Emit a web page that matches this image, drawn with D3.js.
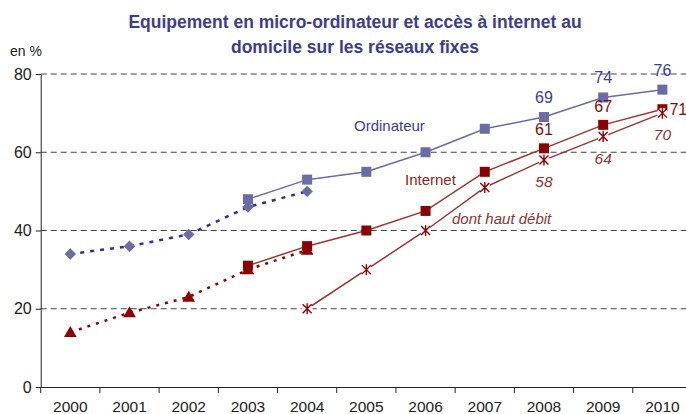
<!DOCTYPE html>
<html><head><meta charset="utf-8">
<script src="https://cdn.jsdelivr.net/npm/d3@7"></script>
<style>body{margin:0;background:#fff}svg{display:block;font-family:"Liberation Sans",Arial,sans-serif}</style>
</head><body><svg id="c" width="686" height="414"></svg>
<script>
const years = ["2000","2001","2002","2003","2004","2005","2006","2007","2008","2009","2010"];
const yTicks = [0,20,40,60,80];
const ordinateur = [null,null,null,48,53,55,60,66,69,74,76];
const ordinateurOld = [34,36,39,46,50,null,null,null,null,null,null];
const internet = [null,null,null,31,36,40,45,55,61,67,71];
const internetOld = [14,19,23,30,35,null,null,null,null,null,null];
const hautDebit = [null,null,null,null,20,30,40,51,58,64,70];
const labelsOrd = [["2008",69],["2009",74],["2010",76]];
const labelsInt = [["2008",61],["2009",67],["2010",71]];
const labelsHD = [["2008",58],["2009",64],["2010",70]];

const svg = d3.select("#c");
const x = d3.scaleBand().domain(years).range([40.7, 692]).padding(0);
const y = d3.scaleLinear().domain([0,80]).range([387, 74]);
const cx = d => x(d) + x.bandwidth()/2;

const cBlue = "#6b6ba6", cBlueDot = "#2e2e9c", cRed = "#8b0000", cRedLine = "#9a3535";

// title
svg.append("text").attr("x",355).attr("y",28).attr("text-anchor","middle")
  .attr("font-size",17.5).attr("font-weight","bold").attr("fill","#3c3c94")
  .text("Equipement en micro-ordinateur et accès à internet au");
svg.append("text").attr("x",355).attr("y",53).attr("text-anchor","middle")
  .attr("font-size",17.5).attr("font-weight","bold").attr("fill","#3c3c94")
  .text("domicile sur les réseaux fixes");
svg.append("text").attr("x",10).attr("y",56).attr("font-size",14).attr("fill","#222").text("en %");

// gridlines
svg.append("g").selectAll("line").data(yTicks.filter(d=>d>0)).join("line")
  .attr("x1",40.7).attr("x2",686).attr("y1",d=>y(d)).attr("y2",d=>y(d))
  .attr("stroke","#444").attr("stroke-width",1).attr("stroke-dasharray","6,4");

// y axis
const ya = svg.append("g").attr("transform","translate(40.7,0)")
  .call(d3.axisLeft(y).tickValues(yTicks).tickSize(5).tickSizeOuter(0));
ya.select(".domain").attr("stroke","#222");
ya.selectAll(".tick line").attr("stroke","#222");
ya.selectAll(".tick text").attr("font-size",16).attr("fill","#222").attr("x",-9)
  .attr("font-family","Liberation Sans, Arial, sans-serif");

// x axis
const xa = svg.append("g").attr("transform","translate(0,387)")
  .call(d3.axisBottom(x).tickSize(0).tickSizeOuter(0));
xa.select(".domain").attr("stroke","#222");
xa.selectAll(".tick text").attr("font-size",15.5).attr("fill","#222").attr("dy","1.45em")
  .attr("font-family","Liberation Sans, Arial, sans-serif");
svg.append("g").selectAll("line").data(years).join("line")
  .attr("x1",d=>x(d)).attr("x2",d=>x(d)).attr("y1",387).attr("y2",393)
  .attr("stroke","#222");

function series(vals){ return years.map((yr,i)=>({yr, v: vals[i]})).filter(d=>d.v!=null); }
const line = d3.line().x(d=>cx(d.yr)).y(d=>y(d.v));

// dotted old series
svg.append("path").datum(series(ordinateurOld)).attr("d",line).attr("fill","none")
  .attr("stroke",cBlueDot).attr("stroke-width",2.5).attr("stroke-dasharray","4,6");
svg.append("path").datum(series(internetOld)).attr("d",line).attr("fill","none")
  .attr("stroke",cRed).attr("stroke-width",2.5).attr("stroke-dasharray","3,6");

// solid series
svg.append("path").datum(series(ordinateur)).attr("d",line).attr("fill","none")
  .attr("stroke",cBlue).attr("stroke-width",1.5);
svg.append("path").datum(series(internet)).attr("d",line).attr("fill","none")
  .attr("stroke",cRedLine).attr("stroke-width",1.5);
svg.append("path").datum(series(hautDebit)).attr("d",line).attr("fill","none")
  .attr("stroke",cRedLine).attr("stroke-width",1.5);

// markers
svg.append("g").selectAll("path").data(series(ordinateurOld)).join("path")
  .attr("transform",d=>`translate(${cx(d.yr)},${y(d.v)}) rotate(45)`)
  .attr("d",d3.symbol(d3.symbolSquare,66)).attr("fill",cBlue);
svg.append("g").selectAll("path").data(series(internetOld)).join("path")
  .attr("transform",d=>`translate(${cx(d.yr)},${y(d.v)+1})`)
  .attr("d",d3.symbol(d3.symbolTriangle,70)).attr("fill",cRed);
svg.append("g").selectAll("rect").data(series(ordinateur)).join("rect")
  .attr("x",d=>cx(d.yr)-5).attr("y",d=>y(d.v)-5).attr("width",10).attr("height",10).attr("fill",cBlue);
svg.append("g").selectAll("rect").data(series(internet)).join("rect")
  .attr("x",d=>cx(d.yr)-5).attr("y",d=>y(d.v)-5).attr("width",10).attr("height",10).attr("fill",cRed);
const hd = svg.append("g").selectAll("g").data(series(hautDebit)).join("g")
  .attr("transform",d=>`translate(${cx(d.yr)},${y(d.v)})`);
hd.append("circle").attr("r",5.5).attr("fill","#fff");
hd.append("path").attr("d","M-4.5,-4.5L4.5,4.5M-4.5,4.5L4.5,-4.5M0,-5.5L0,5.5")
  .attr("stroke",cRed).attr("stroke-width",1.4).attr("fill","none");

// value labels
svg.append("g").selectAll("text").data(labelsOrd).join("text")
  .attr("x",d=>cx(d[0])).attr("y",d=>y(d[1])-14).attr("text-anchor","middle")
  .attr("font-size",16).attr("fill","#3c3c9c").text(d=>d[1]);
svg.append("g").selectAll("text").data(labelsInt).join("text")
  .attr("x",d=>d[0]==="2010"?cx(d[0])+7:cx(d[0]))
  .attr("y",d=>d[0]==="2010"?y(d[1])+6:y(d[1])-13)
  .attr("text-anchor",d=>d[0]==="2010"?"start":"middle")
  .attr("font-size",16).attr("fill","#7a1010").text(d=>d[1]);
svg.append("g").selectAll("text").data(labelsHD).join("text")
  .attr("x",d=>cx(d[0])).attr("y",d=>y(d[1])+27).attr("text-anchor","middle")
  .attr("font-size",15.5).attr("font-style","italic").attr("fill","#8a3535").text(d=>d[1]);

// series names
svg.append("text").attr("x",354).attr("y",131).attr("font-size",15).attr("fill","#3c3c9c").text("Ordinateur");
svg.append("text").attr("x",405).attr("y",185).attr("font-size",15).attr("fill","#8a2525").text("Internet");
svg.append("text").attr("x",452).attr("y",224).attr("font-size",15).attr("font-style","italic").attr("fill","#8a3535").text("dont haut débit");
</script></body></html>
